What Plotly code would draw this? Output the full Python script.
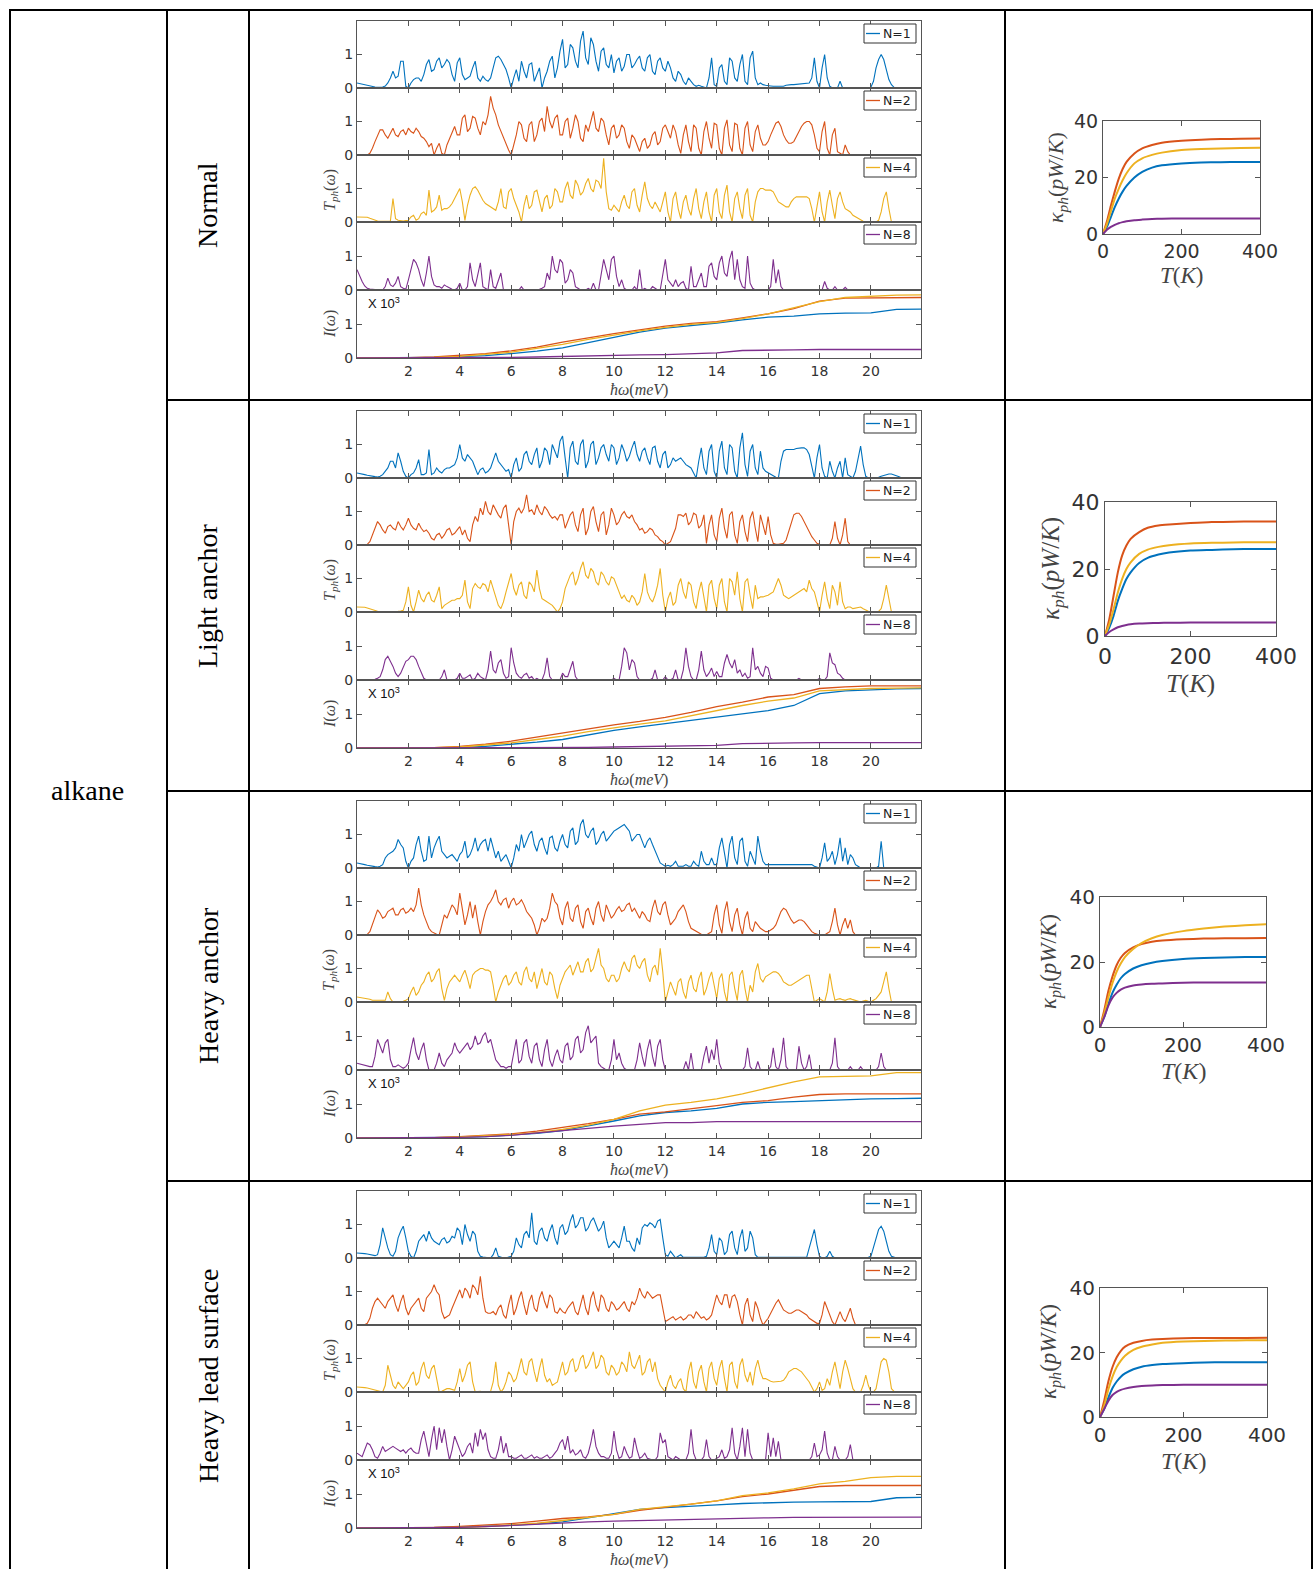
import plotly.graph_objects as go

W, H = 1313, 1569
COLORS = ['#0072BD', '#D95319', '#EDB120', '#7E2F8E']
N_LABELS = ['N=1', 'N=2', 'N=4', 'N=8']
ROW_NAMES = ['Normal', 'Light anchor', 'Heavy anchor', 'Heavy lead surface']
omega_even = [round(0.2 * i, 1) for i in range(111)]        # 0.0, 0.2, ... 22.0 meV
omega_odd = [round(0.1 + 0.2 * i, 1) for i in range(110)]   # 0.1, 0.3, ... 21.9 meV
omega_I = list(range(23))                                   # grid for I(omega)
T_K = [0, 10, 20, 30, 40, 50, 60, 80, 100, 125, 150, 200, 250, 300, 350, 400]
x_ticks = [2, 4, 6, 8, 10, 12, 14, 16, 18, 20]

# Transmission spectra: values read at even (…_ev) and odd (…_od) grid points
# ---------------- Normal ----------------
normal_N1_ev = [0.15,0.12,0.08,0.04,0.02,0.03,0.15,0.5,0.35,0.8,
                0.0,0.25,0.3,0.4,0.85,0.55,0.9,0.7,0.75,0.2,
                0.9,0.25,0.35,0.8,0.2,0.25,0.3,0.9,0.85,0.55,
                0.0,0.55,0.8,0.3,0.75,0.4,0.0,0.5,0.95,0.6,
                1.45,0.7,1.2,0.6,1.7,0.7,1.3,0.5,1.2,0.6,
                0.45,0.9,0.65,1.0,0.7,0.95,0.5,1.0,0.4,0.9,
                0.5,0.6,0.2,0.4,0.1,0.2,0.05,0.05,0.0,0.9,
                0.05,0.7,0.1,0.8,0.2,1.0,0.1,1.1,0.1,0.1,
                0.08,0.05,0.05,0.05,0.1,0.1,0.12,0.15,0.15,0.9,
                0.0,1.0,0.05,0.0,0.2,0.0,0.0,0.0,0.0,0.0,
                0.02,0.6,1.0,0.5,0.1,0.0]
normal_N1_od = [0.13,0.1,0.06,0.03,0.02,0.06,0.3,0.3,0.8,0.05,
                0.15,0.3,0.2,0.7,0.5,0.8,0.6,0.85,0.4,0.75,
                0.4,0.3,0.6,0.3,0.35,0.2,0.6,0.95,0.7,0.3,
                0.3,0.2,0.5,0.7,0.2,0.6,0.3,0.8,0.3,1.1,
                0.6,1.3,0.8,1.4,0.9,1.5,0.8,1.1,0.7,1.0,
                0.8,0.5,1.0,0.6,0.85,0.6,0.9,0.5,0.8,0.6,
                0.8,0.3,0.5,0.2,0.3,0.1,0.08,0.03,0.3,0.1,
                0.6,0.2,0.9,0.3,0.7,0.2,0.9,0.3,0.15,0.08,
                0.06,0.05,0.05,0.08,0.1,0.11,0.14,0.15,0.3,0.2,
                0.6,0.3,0.0,0.0,0.0,0.0,0.0,0.0,0.0,0.0,
                0.2,0.85,0.85,0.25,0.02]
normal_N2_ev = [0,0,0,0.2,0.6,0.75,0.5,0.8,0.55,0.75,
                0.8,0.65,0.7,0.5,0.25,0.0,0.35,0.0,0.5,0.85,
                0.6,1.2,0.8,1.1,0.6,0.9,1.75,1.2,0.7,0.3,
                0.0,0.6,0.9,0.4,1.0,0.6,1.1,1.45,0.8,1.2,
                0.6,1.1,0.8,1.0,0.4,0.7,1.3,0.7,1.0,0.3,
                0.9,0.6,0.8,0.2,0.5,0.1,0.5,0.3,0.7,0.4,
                0.9,0.5,0.7,0.05,0.9,0.1,0.8,0.0,1.0,0.2,
                0.9,0.0,1.05,0.1,0.9,0.0,1.0,0.1,0.9,0.3,
                0.4,0.8,1.0,0.6,0.35,0.4,0.7,0.95,1.0,0.6,
                0.1,1.0,0.0,0.8,0.05,0.3,0.0]
normal_N2_od = [0,0,0.05,0.4,0.75,0.6,0.65,0.6,0.7,0.6,
                0.7,0.8,0.55,0.4,0.35,0.2,0.05,0.3,0.7,0.6,
                1.1,0.7,1.15,0.8,1.0,1.2,1.4,0.9,0.5,0.15,
                0.3,1.0,0.5,0.9,0.4,1.0,0.7,1.0,1.1,0.6,
                1.0,0.5,1.2,0.5,0.9,1.0,0.8,1.1,0.6,0.8,
                0.5,0.9,0.4,0.6,0.3,0.4,0.2,0.6,0.3,0.8,
                0.7,0.9,0.3,0.6,0.4,0.9,0.2,0.7,0.5,0.95,
                0.2,0.8,0.3,0.95,0.2,0.8,0.3,0.7,0.5,0.3,
                0.6,0.95,0.85,0.45,0.35,0.55,0.85,1.0,0.9,0.2,
                0.7,0.2,0.6,0.1,0.0,0.1]
normal_N4_ev = [0.15,0.15,0.14,0.08,0.03,0.02,0.02,0.7,0.05,0.03,
                0.05,0.2,0.1,0.3,0.95,0.35,0.8,0.4,0.45,0.7,
                1.0,0.05,0.8,1.05,0.8,0.55,0.45,0.35,1.0,0.4,
                1.0,0.5,0.0,0.8,0.5,0.95,0.3,0.8,0.5,0.9,
                0.6,1.2,0.7,1.1,0.9,1.3,0.9,1.2,1.9,0.4,
                0.5,0.3,0.8,0.4,1.0,0.3,1.2,0.5,0.6,0.3,
                0.9,0.0,0.9,0.1,0.8,0.2,1.0,0.1,0.9,0.0,
                1.0,0.1,1.1,0.0,0.9,0.1,1.0,0.0,0.9,1.0,
                0.95,0.9,0.6,0.5,0.45,0.7,0.75,0.75,0.7,0.0,
                0.9,0.0,0.95,0.1,0.9,0.4,0.3,0.15,0.05,0.0,
                0.0,0.0,0.3,0.9,0.0]
normal_N4_od = [0.15,0.15,0.11,0.05,0.02,0.02,0.03,0.1,0.03,0.04,
                0.15,0.05,0.25,0.2,0.3,0.45,0.35,0.4,0.55,0.85,
                0.6,0.5,1.0,0.95,0.65,0.5,0.4,0.6,0.45,0.9,
                0.7,0.3,0.5,0.4,0.9,0.6,0.7,0.4,1.0,0.6,
                1.0,0.8,1.25,0.8,1.15,1.0,1.25,1.0,0.9,0.35,
                0.4,0.6,0.5,0.9,0.5,0.8,0.7,0.4,0.45,0.6,
                0.3,0.7,0.4,0.6,0.4,0.7,0.4,0.6,0.3,0.8,
                0.3,0.8,0.3,0.7,0.4,0.8,0.2,0.6,1.0,0.95,
                0.95,0.75,0.55,0.45,0.6,0.75,0.75,0.75,0.4,0.5,
                0.3,0.6,0.5,0.7,0.6,0.35,0.2,0.1,0.02,0.0,
                0.0,0.05,0.7,0.4]
normal_N8_ev = [0.6,0.25,0.05,0.02,0.0,0.0,0.35,0.1,0.4,0.05,
                0.3,0.9,0.6,0.1,1.0,0.15,0.1,0.15,0.05,0.0,
                0.2,0.0,0.8,0.1,0.8,0.05,0.6,0.05,0.5,0.0,
                0.0,0.0,0.1,0.0,0.0,0.0,0.05,0.5,1.0,0.5,
                0.8,0.3,0.5,0.05,0.0,0.05,0.2,0.0,0.9,0.3,
                1.0,0.1,0.05,0.0,0.1,0.6,0.05,0.0,0.05,0.0,
                0.9,0.2,0.3,0.2,0.05,0.7,0.1,0.5,0.1,0.8,
                0.3,1.0,0.4,1.15,0.9,0.1,1.0,0.05,0.0,0.0,
                0.0,0.9,0.6,0.0,0.0,0.0,0.0,0.0,0.0,0.0,
                0.0,0.25,0.0,0.1,0.0,0.08,0.0]
normal_N8_od = [0.4,0.12,0.03,0.0,0.0,0.1,0.15,0.2,0.1,0.02,
                0.6,0.8,0.3,0.5,0.4,0.1,0.05,0.1,0.02,0.05,
                0.0,0.1,0.3,0.5,0.1,0.0,0.1,0.3,0.0,0.0,
                0.0,0.0,0.0,0.0,0.0,0.02,0.1,0.3,0.6,0.9,
                0.2,0.6,0.1,0.0,0.0,0.0,0.0,0.4,0.6,0.9,
                0.4,0.3,0.0,0.0,0.0,0.0,0.0,0.1,0.0,0.4,
                0.3,0.1,0.1,0.25,0.0,0.1,0.3,0.1,0.7,0.4,
                0.8,0.5,0.9,0.3,0.3,0.05,0.2,0.0,0.0,0.0,
                0.1,0.2,0.1,0.0,0.0,0.0,0.0,0.0,0.0,0.0,
                0.0,0.05,0.0,0.0,0.0,0.0]
normal_I_N1 = [0,0,0.01,0.02,0.04,0.07,0.13,0.2,0.3,0.45,0.62,0.76,0.88,0.95,1.03,1.12,1.2,1.23,1.3,1.32,1.33,1.43,1.44]
normal_I_N2 = [0,0,0.01,0.03,0.07,0.13,0.21,0.32,0.47,0.6,0.72,0.83,0.94,1.02,1.07,1.18,1.3,1.45,1.67,1.76,1.77,1.78,1.78]
normal_I_N4 = [0,0,0.01,0.02,0.05,0.1,0.17,0.28,0.4,0.55,0.68,0.8,0.9,0.99,1.05,1.16,1.3,1.47,1.66,1.78,1.82,1.85,1.86]
normal_I_N8 = [0,0,0,0,0,0.01,0.02,0.03,0.05,0.07,0.08,0.09,0.1,0.12,0.15,0.22,0.24,0.24,0.25,0.25,0.25,0.25,0.25]
normal_k_N1 = [0,2.5,6,9.5,12.5,15,17,20,22,23.5,24.3,25,25.3,25.4,25.5,25.5]
normal_k_N2 = [0,4.5,10,15,19.5,23,25.5,28.5,30.3,31.5,32.3,33,33.4,33.6,33.7,33.8]
normal_k_N4 = [0,3.5,8,12.5,16,19,21.5,25,26.8,28,28.8,29.7,30.1,30.3,30.4,30.5]
normal_k_N8 = [0,1.5,2.5,3.2,3.8,4.2,4.5,4.9,5.1,5.3,5.4,5.5,5.5,5.5,5.5,5.5]

# ---------------- Light anchor ----------------
light_N1_ev = [0.15,0.12,0.08,0.05,0.03,0.1,0.3,0.5,0.75,0.2,
               0.0,0.15,0.55,0.1,0.85,0.15,0.2,0.25,0.3,0.4,
               1.0,0.5,0.6,0.3,0.25,0.15,0.3,0.75,0.4,0.2,
               0.0,0.6,0.3,0.8,0.4,0.9,0.5,0.8,1.0,0.6,
               1.25,0.0,1.1,0.4,1.15,0.5,1.1,0.6,1.0,0.5,
               0.9,0.6,0.8,0.65,1.1,0.5,0.9,0.4,0.95,0.3,
               0.8,0.4,0.5,0.6,0.4,0.3,0.0,0.9,0.1,1.0,
               0.0,1.1,0.1,0.9,0.0,1.35,0.05,1.0,0.1,0.3,
               0.15,0.05,0.0,0.8,0.85,0.85,0.9,0.9,0.7,0.0,
               1.0,0.05,0.5,0.0,0.5,0.6,0.05,0.2,0.95,0.05,
               0.0,0.0,0.05,0.1,0.12,0.08,0.0]
light_N1_od = [0.14,0.1,0.06,0.04,0.05,0.2,0.5,0.3,0.5,0.05,
               0.1,0.3,0.1,0.15,0.1,0.3,0.15,0.3,0.35,0.6,
               0.6,0.7,0.5,0.1,0.3,0.2,0.5,0.5,0.3,0.25,
               0.4,0.2,0.7,0.5,0.7,0.3,0.9,0.4,0.8,1.1,
               0.6,0.9,0.5,1.0,0.3,1.0,0.4,0.9,0.7,1.0,
               0.4,1.0,0.5,0.9,0.7,0.8,0.6,0.9,0.5,0.7,
               0.3,0.6,0.55,0.5,0.35,0.15,0.5,0.3,0.8,0.2,
               0.8,0.3,1.0,0.2,0.9,0.4,0.8,0.3,0.8,0.2,
               0.1,0.02,0.5,0.85,0.85,0.88,0.9,0.85,0.3,0.6,
               0.3,0.0,0.2,0.3,0.0,0.1,0.0,0.6,0.4,0.0,
               0.0,0.02,0.08,0.12,0.1,0.04]
light_N2_ev = [0,0,0.02,0.3,0.7,0.45,0.55,0.5,0.7,0.45,
               0.8,0.5,0.65,0.4,0.35,0.15,0.35,0.3,0.5,0.35,
               0.55,0.45,0.1,0.85,1.1,1.3,0.9,1.05,0.8,1.2,
               0.0,1.0,0.95,1.5,1.05,1.2,0.9,1.05,0.8,0.75,
               0.9,0.7,1.0,0.4,1.1,0.5,1.15,0.4,1.0,0.6,
               0.9,0.7,1.0,0.8,0.7,0.45,0.35,0.5,0.3,0.15,
               0.0,0.1,0.5,0.9,0.95,0.7,0.9,0.6,0.05,0.9,
               0.1,1.1,0.2,1.0,0.05,0.9,0.1,1.0,0.1,0.6,
               0.85,0.05,0.02,0.05,0.4,0.9,0.95,0.7,0.4,0.15,
               0.02,0.0,0.0,0.7,0.0,0.8,0.0]
light_N2_od = [0,0,0.1,0.55,0.6,0.35,0.6,0.45,0.55,0.6,
               0.6,0.45,0.5,0.45,0.2,0.3,0.2,0.45,0.3,0.45,
               0.3,0.2,0.6,0.7,0.9,1.0,1.2,0.9,1.1,0.5,
               0.7,1.1,1.1,1.0,0.9,1.0,1.15,0.9,0.85,0.9,
               0.5,0.9,0.6,0.9,0.3,1.0,0.7,0.9,0.3,1.1,
               0.6,0.9,0.85,0.9,0.6,0.5,0.4,0.45,0.25,0.1,
               0.05,0.3,0.9,0.85,0.6,0.95,0.5,0.9,0.6,0.3,
               0.8,0.5,0.9,0.3,0.7,0.4,0.8,0.5,0.9,0.3,
               0.3,0.02,0.03,0.15,0.7,0.95,0.85,0.55,0.25,0.05,
               0.0,0.0,0.2,0.2,0.3,0.1]
light_N4_ev = [0.15,0.15,0.12,0.06,0.02,0.0,0.0,0.0,0.02,0.05,
               0.75,0.0,0.65,0.3,0.6,0.3,0.75,0.2,0.3,0.35,
               0.4,0.95,0.1,0.85,0.7,0.8,0.95,0.4,0.1,0.6,
               1.15,0.5,0.9,0.4,0.8,1.25,0.4,0.3,0.2,0.0,
               0.3,0.9,1.2,1.0,1.5,1.0,1.2,0.8,1.1,0.8,
               1.0,0.6,0.5,0.3,0.4,0.3,1.15,0.4,0.5,1.3,
               0.0,0.6,0.3,1.0,0.4,0.8,0.1,0.9,0.0,0.95,
               0.1,1.0,0.0,0.9,1.2,0.0,1.0,0.1,0.4,0.45,
               0.5,0.6,1.0,0.5,0.4,0.5,0.6,0.7,0.95,0.6,
               0.0,0.9,0.1,0.6,0.9,0.1,0.15,0.12,0.15,0.05,
               0.0,0.0,0.1,0.8,0.0]
light_N4_od = [0.15,0.14,0.09,0.04,0.01,0.0,0.0,0.01,0.03,0.3,
               0.2,0.3,0.4,0.5,0.35,0.5,0.1,0.25,0.35,0.4,
               0.5,0.3,0.7,0.75,0.85,0.6,0.7,0.2,0.3,0.9,
               0.7,0.8,0.5,0.9,0.6,0.7,0.35,0.25,0.1,0.1,
               0.7,1.1,0.8,1.3,1.1,1.3,0.9,1.2,0.9,1.05,
               0.8,0.4,0.35,0.5,0.2,0.6,0.6,0.3,0.8,0.5,
               0.4,0.2,0.8,0.6,0.9,0.3,0.6,0.5,0.8,0.4,
               0.8,0.3,1.0,0.5,0.4,0.9,0.5,0.8,0.45,0.48,
               0.55,0.8,0.8,0.45,0.45,0.55,0.65,0.6,0.7,0.3,
               0.5,0.4,0.8,0.2,0.3,0.15,0.1,0.14,0.1,0.02,
               0.0,0.02,0.4,0.4]
light_N8_ev = [0,0,0,0,0.05,0.3,0.7,0.4,0.1,0.4,
               0.6,0.7,0.4,0.05,0.0,0.0,0.0,0.3,0.0,0.0,
               0.2,0.05,0.15,0.05,0.1,0.0,0.85,0.2,0.6,0.05,
               0.95,0.2,0.05,0.2,0.1,0.05,0.0,0.65,0.0,0.0,
               0.2,0.1,0.55,0.0,0.0,0.0,0.0,0.0,0.0,0.0,
               0.05,0.0,0.95,0.3,0.5,0.0,0.0,0.0,0.3,0.0,
               0.1,0.0,0.3,0.0,0.95,0.1,0.0,0.85,0.1,0.35,
               0.25,0.1,0.75,0.35,0.2,0.1,0.05,0.95,0.4,0.1,
               0.35,0.0,0.0,0.0,0.0,0.0,0.05,0.0,0.0,0.0,
               0.05,0.0,0.8,0.45,0.15,0.0]
light_N8_od = [0,0,0,0.02,0.1,0.6,0.55,0.2,0.2,0.55,
               0.7,0.6,0.2,0.0,0.0,0.0,0.1,0.0,0.0,0.05,
               0.05,0.1,0.0,0.2,0.05,0.3,0.3,0.5,0.2,0.1,
               0.5,0.1,0.15,0.05,0.0,0.0,0.2,0.1,0.0,0.0,
               0.1,0.3,0.1,0.0,0.0,0.0,0.0,0.0,0.0,0.0,
               0.0,0.4,0.8,0.6,0.1,0.0,0.0,0.05,0.0,0.0,
               0.0,0.05,0.0,0.3,0.4,0.0,0.3,0.3,0.2,0.1,
               0.1,0.5,0.5,0.6,0.3,0.2,0.1,0.3,0.2,0.4,
               0.05,0.0,0.0,0.0,0.0,0.0,0.0,0.0,0.0,0.0,
               0.0,0.1,0.5,0.2,0.05]
light_I_N1 = [0,0,0,0.01,0.02,0.05,0.1,0.17,0.25,0.38,0.52,0.62,0.72,0.82,0.92,1.02,1.1,1.25,1.6,1.68,1.72,1.74,1.75]
light_I_N2 = [0,0,0,0.01,0.05,0.11,0.2,0.32,0.45,0.57,0.68,0.78,0.9,1.05,1.22,1.35,1.5,1.57,1.75,1.8,1.83,1.83,1.83]
light_I_N4 = [0,0,0,0.01,0.03,0.08,0.15,0.25,0.35,0.48,0.6,0.7,0.8,0.95,1.12,1.25,1.38,1.47,1.68,1.72,1.75,1.76,1.77]
light_I_N8 = [0,0,0,0,0,0,0,0,0.01,0.02,0.03,0.04,0.05,0.06,0.08,0.13,0.15,0.15,0.16,0.16,0.16,0.16,0.16]
light_k_N1 = [0,2.5,6,10.5,14,17,19,21.8,23.3,24.3,24.9,25.5,25.7,25.9,26,26]
light_k_N2 = [0,5,12,19,24,27,29,31,32.3,33,33.3,33.7,34,34.1,34.2,34.2]
light_k_N4 = [0,3.5,8,13,17,20,22,24.5,25.8,26.6,27.1,27.6,27.8,27.9,28,28]
light_k_N8 = [0,1.2,2,2.6,3.0,3.3,3.5,3.7,3.8,3.9,3.95,4.0,4.0,4.0,4.0,4.0]

# ---------------- Heavy anchor ----------------
heavy_N1_ev = [0.15,0.12,0.08,0.05,0.03,0.1,0.4,0.5,0.85,0.6,
               0.0,0.3,0.95,0.2,0.95,0.6,0.95,0.4,0.35,0.3,
               0.4,0.8,0.4,0.9,0.7,0.85,0.9,0.3,0.2,0.4,
               0.0,0.7,1.0,0.8,1.1,0.5,0.9,0.4,0.95,0.5,
               1.0,0.6,1.2,0.8,1.45,0.9,1.2,0.8,1.1,0.9,
               1.1,1.2,1.3,1.1,0.9,1.0,0.6,0.9,0.5,0.15,
               0.05,0.05,0.2,0.05,0.1,0.05,0.1,0.5,0.1,0.3,
               0.1,0.9,0.0,0.95,0.1,0.9,0.05,0.3,0.95,0.2,
               0.1,0.1,0.1,0.1,0.1,0.1,0.1,0.1,0.1,0.05,
               0.0,0.75,0.3,0.1,0.9,0.6,0.4,0.1,0.0,0.0,
               0.0,0.0,0.8,0.0]
heavy_N1_od = [0.14,0.1,0.06,0.04,0.05,0.3,0.45,0.6,0.7,0.2,
               0.2,0.7,0.5,0.25,0.3,0.8,0.5,0.3,0.4,0.2,
               0.5,0.3,0.6,0.5,0.8,0.5,0.6,0.5,0.3,0.2,
               0.3,0.5,0.6,1.0,0.7,0.8,0.6,0.9,0.6,0.8,
               0.7,1.1,0.7,1.3,1.0,1.1,0.7,1.0,0.8,1.0,
               1.15,1.25,1.2,0.8,1.0,0.8,0.8,0.7,0.3,0.1,
               0.08,0.1,0.05,0.05,0.05,0.2,0.05,0.2,0.1,0.1,
               0.6,0.4,0.7,0.3,0.8,0.2,0.5,0.1,0.5,0.1,
               0.1,0.1,0.1,0.1,0.1,0.1,0.1,0.1,0.1,0.03,
               0.3,0.2,0.5,0.4,0.2,0.1,0.3,0.05,0.0,0.0,
               0.0,0.05,0.0]
heavy_N2_ev = [0,0,0.02,0.3,0.75,0.5,0.7,0.8,0.6,0.8,
               0.7,0.7,1.4,0.6,0.2,0.05,0.0,0.6,0.7,0.8,
               1.25,0.3,1.0,0.9,0.0,0.7,1.0,1.35,0.9,1.1,
               1.0,0.9,1.05,0.7,0.5,0.0,0.5,0.5,1.25,0.9,
               0.3,1.0,0.4,0.9,0.2,0.8,0.3,1.0,0.4,0.7,
               0.6,0.85,0.75,0.95,0.8,0.5,0.6,0.4,1.05,0.6,
               1.0,0.3,0.5,0.8,0.7,0.2,0.1,0.02,0.0,0.1,
               0.9,0.05,1.0,0.1,0.8,0.0,0.7,0.1,0.3,0.15,
               0.1,0.2,0.5,0.8,0.6,0.35,0.45,0.4,0.2,0.05,
               0.0,0.0,0.1,0.8,0.0,0.5,0.45,0.0]
heavy_N2_od = [0,0,0.1,0.55,0.65,0.55,0.75,0.6,0.75,0.65,
               0.8,0.9,0.9,0.4,0.1,0.02,0.3,0.5,0.9,0.6,
               0.7,0.6,0.5,0.4,0.4,0.9,1.15,1.0,1.05,0.8,
               1.1,0.95,0.9,0.6,0.3,0.2,0.4,0.8,1.0,0.5,
               0.8,0.5,0.8,0.4,0.7,0.5,0.8,0.6,0.9,0.5,
               0.75,0.7,0.9,0.7,0.65,0.7,0.45,0.8,0.7,0.9,
               0.6,0.4,0.7,0.9,0.4,0.15,0.05,0.0,0.05,0.6,
               0.3,0.7,0.4,0.6,0.3,0.5,0.2,0.4,0.2,0.1,
               0.15,0.3,0.7,0.75,0.45,0.4,0.45,0.3,0.1,0.02,
               0.0,0.05,0.4,0.3,0.3,0.2,0.1]
heavy_N4_ev = [0.15,0.12,0.1,0.05,0.05,0.05,0.3,0.0,0.0,0.02,
               0.1,0.45,0.3,0.6,0.9,0.7,1.0,0.05,0.6,0.8,
               0.6,0.95,0.4,0.9,1.0,0.95,0.9,0.0,0.5,0.8,
               0.6,0.9,0.5,1.05,0.6,0.4,1.0,0.5,0.8,0.1,
               0.7,1.0,0.8,1.2,0.9,1.3,1.0,1.6,1.0,0.6,
               0.8,0.7,1.2,0.9,1.4,1.0,1.3,0.6,1.1,1.6,
               0.0,0.6,0.2,0.7,0.1,0.8,0.3,0.9,0.4,0.9,
               0.1,0.85,0.0,0.9,0.05,0.95,0.0,0.3,1.15,0.6,
               0.8,0.9,0.85,0.6,0.5,0.55,0.65,0.75,0.8,0.0,
               0.1,0.0,0.85,0.05,0.1,0.05,0.1,0.05,0.0,0.05,
               0.0,0.1,0.3,0.9,0.0]
heavy_N4_od = [0.14,0.11,0.08,0.05,0.05,0.05,0.1,0.0,0.01,0.05,
               0.3,0.2,0.5,0.8,0.6,0.9,0.4,0.4,0.7,0.7,
               0.8,0.7,0.8,0.95,1.0,0.95,0.5,0.3,0.7,0.5,
               0.8,0.6,0.9,0.7,0.9,0.7,0.6,0.9,0.4,0.5,
               0.9,1.1,1.0,0.9,1.2,0.9,1.3,1.1,0.7,0.8,
               0.6,1.0,1.0,1.3,1.1,1.2,0.8,1.0,0.8,0.9,
               0.3,0.4,0.6,0.3,0.6,0.4,0.7,0.2,0.7,0.5,
               0.7,0.3,0.8,0.4,0.8,0.4,0.5,0.9,0.7,0.75,
               0.85,0.9,0.75,0.55,0.5,0.6,0.7,0.8,0.4,0.05,
               0.05,0.3,0.4,0.08,0.07,0.08,0.07,0.02,0.03,0.02,
               0.05,0.2,0.6,0.4]
heavy_N8_ev = [0.2,0.15,0.1,0.1,0.9,0.5,0.9,0.1,0.15,0.05,
               0.2,0.95,0.3,0.8,0.0,0.0,0.5,0.1,0.4,0.8,
               0.5,0.7,0.6,1.0,0.8,1.1,0.9,0.3,0.1,0.05,
               0.1,0.9,0.3,0.9,0.2,0.8,0.1,0.9,0.1,0.6,
               0.2,0.8,0.4,1.0,0.6,1.3,0.9,0.2,0.05,0.0,
               0.9,0.5,0.05,0.0,0.0,0.8,0.1,0.9,0.1,0.9,
               0.0,0.0,0.0,0.0,0.25,0.5,0.0,0.0,0.7,0.6,
               0.9,0.0,0.0,0.0,0.0,0.0,0.65,0.0,0.25,0.0,
               0.0,0.65,0.0,0.95,0.0,0.0,0.7,0.0,0.45,0.0,
               0.0,0.0,0.0,0.95,0.0,0.0,0.1,0.0,0.1,0.0,
               0.0,0.0,0.5,0.0]
heavy_N8_od = [0.18,0.12,0.1,0.4,0.7,0.8,0.3,0.1,0.1,0.1,
               0.6,0.5,0.6,0.3,0.0,0.2,0.2,0.3,0.5,0.6,
               0.6,0.8,0.7,0.75,1.0,0.8,0.6,0.2,0.1,0.1,
               0.5,0.2,0.8,0.4,0.7,0.3,0.6,0.3,0.4,0.3,
               0.7,0.3,0.9,0.5,1.1,0.8,1.0,0.1,0.0,0.3,
               0.3,0.2,0.0,0.0,0.3,0.4,0.6,0.4,0.7,0.3,
               0.0,0.0,0.0,0.0,0.0,0.0,0.0,0.4,0.2,0.3,
               0.2,0.0,0.0,0.0,0.0,0.1,0.1,0.0,0.0,0.0,
               0.1,0.1,0.3,0.1,0.0,0.0,0.2,0.1,0.0,0.0,
               0.0,0.0,0.2,0.1,0.0,0.0,0.0,0.0,0.0,0.0,
               0.0,0.1,0.1]
heavy_I_N1 = [0,0,0,0.01,0.02,0.04,0.08,0.14,0.22,0.35,0.5,0.65,0.75,0.8,0.87,1.0,1.05,1.07,1.1,1.12,1.15,1.16,1.17]
heavy_I_N2 = [0,0,0,0.01,0.04,0.07,0.12,0.2,0.3,0.42,0.55,0.7,0.77,0.85,0.95,1.05,1.1,1.2,1.28,1.3,1.3,1.3,1.3]
heavy_I_N4 = [0,0,0,0.01,0.03,0.06,0.1,0.16,0.25,0.38,0.55,0.8,0.97,1.05,1.15,1.3,1.48,1.65,1.8,1.82,1.83,1.92,1.92]
heavy_I_N8 = [0,0,0,0.01,0.02,0.04,0.08,0.15,0.22,0.3,0.35,0.4,0.45,0.45,0.48,0.48,0.48,0.48,0.48,0.48,0.48,0.48,0.48]
heavy_k_N1 = [0,3,7,10.5,13,15,16.3,18,19,19.8,20.3,20.9,21.2,21.4,21.5,21.5]
heavy_k_N2 = [0,5,11,15.5,19,21.3,22.8,24.5,25.5,26.2,26.6,27,27.2,27.3,27.3,27.4]
heavy_k_N4 = [0,4,9,13.5,17,19.5,21.5,24,25.8,27.3,28.3,29.5,30.3,30.9,31.3,31.6]
heavy_k_N8 = [0,3,6.5,9,10.5,11.5,12.1,12.8,13.1,13.3,13.4,13.6,13.7,13.7,13.7,13.7]

# ---------------- Heavy lead surface ----------------
lead_N1_ev = [0.15,0.14,0.12,0.08,0.1,0.9,0.3,0.05,0.6,0.95,
              0.2,0.0,0.5,0.7,0.8,0.5,0.4,0.6,0.5,0.6,
              0.8,1.0,0.5,0.7,0.05,0.02,0.0,0.3,0.02,0.0,
              0.05,0.6,0.3,0.8,1.35,0.4,0.9,0.5,1.0,0.4,
              1.0,0.8,1.3,1.0,1.2,0.9,1.2,0.8,1.1,0.3,
              0.5,0.3,0.95,0.5,0.2,0.4,1.0,1.05,0.9,1.15,
              0.1,0.2,0.0,0.1,0.02,0.03,0.02,0.03,0.05,0.7,
              0.1,0.5,0.2,0.8,0.1,0.85,0.3,0.6,0.02,0.02,
              0.02,0.02,0.02,0.02,0.02,0.02,0.02,0.02,0.3,0.85,
              0.05,0.0,0.2,0.0,0.0,0.0,0.0,0.0,0.0,0.0,
              0.05,0.6,0.95,0.5,0.05,0.0]
lead_N1_od = [0.15,0.13,0.1,0.07,0.4,0.6,0.1,0.2,0.8,0.6,
              0.05,0.2,0.6,0.5,0.6,0.45,0.55,0.45,0.65,0.9,
              0.4,0.7,0.8,0.2,0.03,0.0,0.1,0.05,0.0,0.02,
              0.2,0.4,0.7,0.6,0.5,0.8,0.6,0.8,0.6,0.9,
              0.7,1.1,0.9,1.2,0.8,1.1,1.0,0.9,0.6,0.4,
              0.4,0.6,0.5,0.3,0.6,0.9,0.95,1.0,1.1,0.6,
              0.05,0.1,0.05,0.02,0.02,0.02,0.02,0.02,0.3,0.2,
              0.6,0.1,0.7,0.3,0.6,0.2,0.8,0.1,0.02,0.02,
              0.02,0.02,0.02,0.02,0.02,0.02,0.02,0.02,0.6,0.4,
              0.0,0.05,0.05,0.0,0.0,0.0,0.0,0.0,0.0,0.02,
              0.3,0.85,0.8,0.2,0.02]
lead_N2_ev = [0,0,0.05,0.5,0.8,0.6,0.7,0.9,0.4,0.9,
              0.3,0.6,0.8,0.4,0.9,1.2,0.9,0.2,0.3,0.7,
              1.05,1.1,0.8,1.1,1.45,0.4,0.35,0.3,0.6,0.2,
              0.9,0.5,1.0,0.3,0.9,0.4,1.0,0.5,0.8,0.35,
              0.4,0.5,0.7,0.3,0.9,0.3,1.0,0.4,0.8,0.4,
              0.6,0.5,0.7,0.4,0.6,1.1,0.8,0.9,0.85,0.9,
              0.1,0.2,0.15,0.25,0.2,0.3,0.4,0.2,0.15,0.3,
              0.9,0.6,0.9,0.85,0.7,0.0,0.8,0.1,0.5,0.0,
              0.2,0.5,0.75,0.45,0.35,0.4,0.45,0.35,0.2,0.1,
              0.05,0.7,0.3,0.0,0.4,0.1,0.5,0.0]
lead_N2_od = [0,0.01,0.2,0.7,0.7,0.5,0.8,0.6,0.7,0.5,
              0.5,0.7,0.5,0.8,1.0,1.0,0.4,0.25,0.5,0.9,
              0.8,1.0,1.2,0.9,0.8,0.35,0.4,0.5,0.3,0.6,
              0.3,0.8,0.6,0.7,0.5,0.8,0.7,0.9,0.4,0.5,
              0.35,0.6,0.4,0.6,0.5,0.8,0.6,0.9,0.5,0.7,
              0.45,0.6,0.5,0.7,0.8,0.9,1.0,0.8,0.9,0.5,
              0.15,0.25,0.2,0.15,0.3,0.2,0.3,0.25,0.2,0.6,
              0.7,0.9,0.5,0.9,0.3,0.6,0.3,0.7,0.2,0.1,
              0.35,0.65,0.6,0.4,0.35,0.45,0.4,0.3,0.15,0.05,
              0.3,0.5,0.1,0.2,0.2,0.3,0.2]
lead_N4_ev = [0.15,0.14,0.12,0.08,0.02,0.0,0.8,0.2,0.3,0.1,
              0.3,0.6,0.3,0.9,0.4,0.8,0.0,0.05,0.1,0.05,
              0.7,0.5,0.9,0.0,0.02,0.0,0.02,0.9,0.0,0.3,
              0.5,0.4,1.0,0.5,1.0,0.3,1.0,0.3,0.2,0.3,
              0.9,0.6,1.0,0.7,1.1,0.8,1.2,0.8,1.0,0.5,
              0.7,0.6,0.8,1.2,0.7,1.1,0.6,1.0,0.9,0.2,
              0.0,0.5,0.1,0.4,0.0,0.9,0.1,0.8,0.0,0.9,
              0.2,0.95,0.0,0.9,0.1,1.0,0.3,0.2,0.95,0.4,
              0.35,0.3,0.3,0.35,0.6,0.7,0.65,0.5,0.3,0.0,
              0.3,0.1,0.2,0.9,0.1,0.95,0.4,0.0,0.0,0.5,
              0.0,0.1,0.9,0.95,0.1,0.0]
lead_N4_od = [0.15,0.13,0.1,0.05,0.01,0.2,0.5,0.1,0.2,0.2,
              0.5,0.2,0.7,0.5,0.7,0.4,0.02,0.1,0.08,0.3,
              0.3,0.8,0.3,0.01,0.0,0.01,0.3,0.2,0.1,0.6,
              0.3,0.7,0.6,0.9,0.6,0.7,0.5,0.4,0.25,0.6,
              0.5,0.9,0.6,1.0,0.7,1.0,0.7,1.1,0.6,0.8,
              0.5,0.9,0.6,0.8,0.9,0.5,0.9,0.6,0.4,0.1,
              0.3,0.2,0.3,0.1,0.6,0.3,0.6,0.3,0.7,0.4,
              0.7,0.4,0.8,0.3,0.8,0.5,0.6,0.7,0.6,0.4,
              0.32,0.3,0.32,0.45,0.65,0.7,0.6,0.4,0.15,0.1,
              0.05,0.4,0.6,0.5,0.6,0.7,0.1,0.0,0.2,0.2,
              0.0,0.5,1.0,0.6,0.02]
lead_N8_ev = [0.2,0.1,0.5,0.3,0.05,0.4,0.3,0.4,0.3,0.3,
              0.3,0.25,0.2,0.85,0.1,1.0,0.95,0.9,0.0,0.7,
              0.3,0.2,0.5,0.8,0.9,0.8,0.1,0.05,0.7,0.5,
              0.1,0.05,0.15,0.05,0.15,0.1,0.05,0.15,0.1,0.3,
              0.6,0.7,0.3,0.2,0.1,0.2,0.9,0.2,0.1,0.05,
              0.85,0.05,0.4,0.05,0.65,0.05,0.2,0.02,0.0,0.8,
              0.6,0.05,0.1,0.0,0.0,0.9,0.0,0.0,0.6,0.0,
              0.05,0.3,0.1,0.95,0.0,0.95,0.9,0.0,0.0,0.0,
              0.8,0.65,0.55,0.0,0.0,0.0,0.0,0.0,0.0,0.5,
              0.15,0.85,0.0,0.4,0.0,0.0,0.45,0.0]
lead_N8_od = [0.15,0.3,0.45,0.1,0.2,0.25,0.35,0.35,0.25,0.2,
              0.35,0.2,0.6,0.5,0.6,0.3,0.5,0.4,0.3,0.5,
              0.1,0.4,0.2,0.4,0.6,0.3,0.05,0.3,0.2,0.1,
              0.05,0.1,0.05,0.1,0.05,0.05,0.1,0.05,0.2,0.5,
              0.3,0.2,0.15,0.3,0.05,0.5,0.4,0.1,0.05,0.2,
              0.3,0.1,0.2,0.1,0.3,0.1,0.05,0.0,0.1,0.5,
              0.1,0.0,0.05,0.0,0.2,0.2,0.0,0.1,0.1,0.0,
              0.1,0.05,0.3,0.2,0.4,0.1,0.2,0.0,0.0,0.0,
              0.1,0.1,0.0,0.0,0.0,0.0,0.0,0.0,0.1,0.1,
              0.3,0.2,0.0,0.1,0.0,0.1,0.0]
lead_I_N1 = [0,0,0,0.01,0.03,0.05,0.08,0.12,0.18,0.3,0.42,0.55,0.6,0.63,0.68,0.72,0.75,0.76,0.77,0.77,0.78,0.89,0.9]
lead_I_N2 = [0,0,0,0.02,0.05,0.09,0.13,0.2,0.28,0.33,0.4,0.52,0.6,0.7,0.8,0.92,1.0,1.1,1.22,1.25,1.25,1.25,1.25]
lead_I_N4 = [0,0,0,0.01,0.02,0.04,0.08,0.14,0.22,0.3,0.4,0.55,0.62,0.7,0.8,0.95,1.03,1.15,1.3,1.37,1.48,1.52,1.52]
lead_I_N8 = [0,0,0,0.01,0.02,0.04,0.08,0.12,0.15,0.18,0.2,0.22,0.24,0.26,0.27,0.29,0.3,0.31,0.31,0.32,0.32,0.32,0.32]
lead_k_N1 = [0,2.5,6,9,11,12.5,13.5,14.8,15.6,16.1,16.4,16.7,16.9,17,17,17]
lead_k_N2 = [0,5,11,15.5,18.5,20.5,21.8,23,23.6,24,24.2,24.4,24.5,24.5,24.5,24.6]
lead_k_N4 = [0,3.5,8.5,12.5,15.5,17.5,19,20.8,21.8,22.5,23,23.4,23.6,23.7,23.8,23.8]
lead_k_N8 = [0,2.5,5,6.8,7.8,8.4,8.8,9.3,9.6,9.8,9.9,10,10,10,10,10]

PANELS = [
    dict(T=[(normal_N1_ev, normal_N1_od), (normal_N2_ev, normal_N2_od),
            (normal_N4_ev, normal_N4_od), (normal_N8_ev, normal_N8_od)],
         I=[normal_I_N1, normal_I_N2, normal_I_N4, normal_I_N8],
         K=[normal_k_N1, normal_k_N2, normal_k_N4, normal_k_N8]),
    dict(T=[(light_N1_ev, light_N1_od), (light_N2_ev, light_N2_od),
            (light_N4_ev, light_N4_od), (light_N8_ev, light_N8_od)],
         I=[light_I_N1, light_I_N2, light_I_N4, light_I_N8],
         K=[light_k_N1, light_k_N2, light_k_N4, light_k_N8]),
    dict(T=[(heavy_N1_ev, heavy_N1_od), (heavy_N2_ev, heavy_N2_od),
            (heavy_N4_ev, heavy_N4_od), (heavy_N8_ev, heavy_N8_od)],
         I=[heavy_I_N1, heavy_I_N2, heavy_I_N4, heavy_I_N8],
         K=[heavy_k_N1, heavy_k_N2, heavy_k_N4, heavy_k_N8]),
    dict(T=[(lead_N1_ev, lead_N1_od), (lead_N2_ev, lead_N2_od),
            (lead_N4_ev, lead_N4_od), (lead_N8_ev, lead_N8_od)],
         I=[lead_I_N1, lead_I_N2, lead_I_N4, lead_I_N8],
         K=[lead_k_N1, lead_k_N2, lead_k_N4, lead_k_N8]),
]


def spectrum(ev, od):
    pts = list(zip(omega_even[:len(ev)], ev)) + list(zip(omega_odd[:len(od)], od))
    pts.sort(key=lambda t: t[0])
    return [t[0] for t in pts], [t[1] for t in pts]


# ---------------- layout geometry (pixels) ----------------
PANEL_TOP = [21, 411, 801, 1191]
SUB_OFF = [0, 67, 134, 201, 269, 337]
PX0, PX1 = 357, 921
K_BOX = [(1103, 1260, 121, 234), (1105, 1276, 502, 636),
         (1100, 1266, 897, 1027), (1100, 1267, 1288, 1417)]
K_TICK = [19, 22, 20, 20]
K_YLAB = [(1057, 178), (1052, 569), (1050, 962), (1050, 1352)]
K_XLAB = [(1181, 275), (1190, 683), (1183, 1071), (1183, 1461)]
ROW_LAB_Y = [205, 596, 986, 1376]

AXCOL = '#555555'
SERIF = 'Liberation Serif'
SANS = 'DejaVu Sans'

def fx(p):
    return p / W

def fy(p):
    return 1 - p / H

fig = go.Figure()
axes = {}
shapes = []
annots = []
counter = [0]

def add_axes(x0, x1, ytop, ybot, xkw, ykw):
    counter[0] += 1
    n = counter[0]
    s = '' if n == 1 else str(n)
    axes['xaxis' + s] = dict(domain=[fx(x0), fx(x1)], anchor='y' + s, **xkw)
    axes['yaxis' + s] = dict(domain=[fy(ybot), fy(ytop)], anchor='x' + s, **ykw)
    return 'x' + s, 'y' + s

def common(size):
    return dict(showline=True, linecolor=AXCOL, linewidth=1.2, mirror='ticks',
                ticks='inside', tickcolor=AXCOL, ticklen=5, tickwidth=1,
                showgrid=False, zeroline=False, automargin=False,
                tickfont=dict(family=SANS, size=size, color='#333333'))

def label(x, y, text, size, family=SERIF, color='#444444', angle=0, xanchor='center'):
    annots.append(dict(x=fx(x), y=fy(y), xref='paper', yref='paper', text=text,
                       showarrow=False, textangle=angle, xanchor=xanchor, yanchor='middle',
                       font=dict(family=family, size=size, color=color)))

for p, panel in enumerate(PANELS):
    top = PANEL_TOP[p]
    for k in range(5):
        yt = top + SUB_OFF[k]
        yb = top + SUB_OFF[k + 1]
        xkw = dict(range=[0, 21.95], tickvals=x_ticks, showticklabels=(k == 4), **common(14))
        ykw = dict(range=[0, 2], tickvals=[0, 1], **common(14))
        xa, ya = add_axes(PX0, PX1, yt, yb, xkw, ykw)
        if k < 4:
            xs, ys = spectrum(*panel['T'][k])
            fig.add_trace(go.Scatter(x=xs, y=ys, mode='lines', xaxis=xa, yaxis=ya,
                                     line=dict(color=COLORS[k], width=1.1), showlegend=False,
                                     hoverinfo='skip'))
            shapes.append(dict(type='rect', xref='paper', yref='paper',
                               x0=fx(864), x1=fx(916), y0=fy(yt + 22), y1=fy(yt + 3),
                               line=dict(color='#333333', width=1), fillcolor='white'))
            shapes.append(dict(type='line', xref='paper', yref='paper',
                               x0=fx(866), x1=fx(880), y0=fy(yt + 12.5), y1=fy(yt + 12.5),
                               line=dict(color=COLORS[k], width=1.3)))
            label(881, yt + 12.5, N_LABELS[k], 12.5, family=SANS, color='#222222', xanchor='left')
        else:
            for j in range(4):
                y = panel['I'][j]
                fig.add_trace(go.Scatter(x=omega_I[:len(y)], y=y, mode='lines', xaxis=xa, yaxis=ya,
                                         line=dict(color=COLORS[j], width=1.3), showlegend=False,
                                         hoverinfo='skip'))
    label(330, top + 169, '<i>T<sub>ph</sub></i>(<i>ω</i>)', 16, angle=-90)
    label(330, top + 303, '<i>I</i>(<i>ω</i>)', 16, angle=-90)
    label(639, top + 369, '<i>ħω</i>(<i>meV</i>)', 16)
    label(366, top + 282, 'X 10<sup>3</sup>', 13, family='Liberation Sans', color='#111111',
          xanchor='left')
    kx0, kx1, ky0, ky1 = K_BOX[p]
    ts = K_TICK[p]
    xkw = dict(range=[0, 400], tickvals=[0, 200, 400], **common(ts))
    ykw = dict(range=[0, 40], tickvals=[0, 20, 40], **common(ts))
    xa, ya = add_axes(kx0, kx1, ky0, ky1, xkw, ykw)
    for j in range(4):
        fig.add_trace(go.Scatter(x=T_K, y=panel['K'][j], mode='lines', xaxis=xa, yaxis=ya,
                                 line=dict(color=COLORS[j], width=2, shape='spline', smoothing=0.6),
                                 showlegend=False, hoverinfo='skip'))
    lx, ly = K_YLAB[p]
    label(lx, ly, '<i>κ<sub>ph</sub></i>(<i>pW</i>/<i>K</i>)', ts + 3, angle=-90)
    lx, ly = K_XLAB[p]
    label(lx, ly, '<i>T</i>(<i>K</i>)', ts + 4)
    label(208, ROW_LAB_Y[p], ROW_NAMES[p], 28, color='black', angle=-90)

label(87, 791, 'alkane', 28, color='black')

def hline(y, x0, x1):
    shapes.append(dict(type='line', xref='paper', yref='paper', x0=fx(x0), x1=fx(x1),
                       y0=fy(y), y1=fy(y), line=dict(color='black', width=2)))

def vline(x, y0, y1):
    shapes.append(dict(type='line', xref='paper', yref='paper', x0=fx(x), x1=fx(x),
                       y0=fy(y0), y1=fy(y1), line=dict(color='black', width=2)))

hline(10, 9, 1313)
for yy in [400, 791, 1181]:
    hline(yy, 167, 1313)
for xx in [10, 167, 249, 1005, 1312]:
    vline(xx, 9, 1569)

fig.update_layout(width=W, height=H, template='none',
                  margin=dict(l=0, r=0, t=0, b=0, pad=0, autoexpand=False),
                  paper_bgcolor='white', plot_bgcolor='white',
                  shapes=shapes, annotations=annots, showlegend=False, **axes)
fig.write_html('out.html',
               post_script="document.body.style.margin='0';document.body.style.overflow='hidden';")
